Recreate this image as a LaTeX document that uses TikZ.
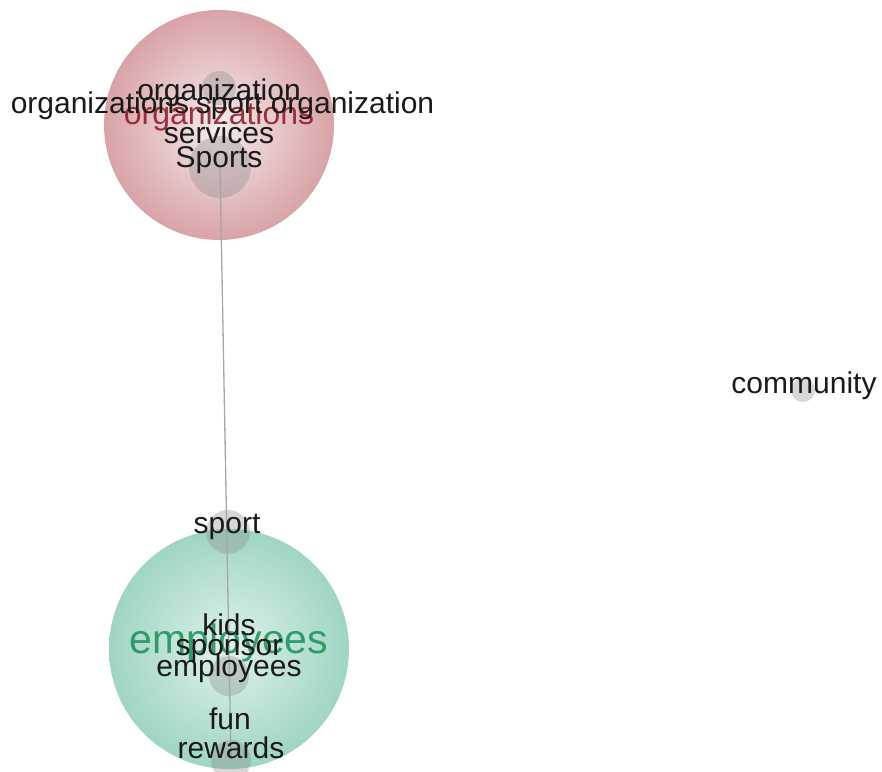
\documentclass[tikz,border=0pt]{standalone}
\usepackage{fontspec}
\setmainfont{Liberation Sans}
\definecolor{redout}{HTML}{D9A3A6}
\definecolor{redin}{HTML}{F6ECEC}
\definecolor{greenout}{HTML}{9FD5C3}
\definecolor{greenin}{HTML}{E0F2EC}
\definecolor{txt}{HTML}{1A1A1A}
\definecolor{redlab}{HTML}{8E1520}
\definecolor{greenlab}{HTML}{189058}
\tikzset{
  bubble/.style={circle, inner sep=0pt, draw=none, shading=radial},
  gnode/.style={circle, inner sep=0pt, draw=none, fill=black!45, fill opacity=0.35},
  lab/.style={inner sep=0pt, text=txt, font=\fontsize{30}{30}\selectfont, anchor=center},
  biglab/.style={inner sep=0pt, anchor=center, text opacity=0.85},
  link/.style={draw=black!35, line width=1.3pt}
}
\begin{document}
\begin{tikzpicture}[x=1pt,y=-1pt]
\useasboundingbox (0,0) rectangle (882,771);
% clusters
\node[bubble, minimum size=230pt, inner color=redin, outer color=redout] (redc) at (219,125) {};
\node[bubble, minimum size=240pt, inner color=greenin, outer color=greenout] (greenc) at (229,649) {};
% item circles
\node[gnode, minimum size=34pt] (norg) at (219,88) {};
\node[gnode, minimum size=62pt] (nsports) at (220,167) {};
\node[gnode, minimum size=24pt] (ncomm) at (803,390) {};
\node[gnode, minimum size=44pt] (nsport) at (228,532) {};
\node[gnode, minimum size=40pt] (nemp) at (229,676) {};
\node[gnode, minimum size=40pt] (nrew) at (231,760) {};
% link
\draw[link] (nsports.center) -- (nrew.center);
% labels
\node[biglab, text=redlab, font=\fontsize{32}{32}\selectfont] (lred) at (219,116) {organizations};
\node[lab] (l1) at (219,93) {organization};
\node[lab] (l2) at (100,106) {organizations};
\node[lab] (l3) at (315,106) {sport organization};
\node[lab] (l4) at (219,133) {services};
\node[lab] (l5) at (219,160) {Sports};
\node[lab] (l6) at (804,386) {community};
\node[lab] (l7) at (227,527) {sport};
\node[biglab, text=greenlab, font=\fontsize{41}{41}\selectfont] (lgreen) at (229,643) {employees};
\node[lab] (l8) at (229,625) {kids};
\node[lab] (l9) at (229,651) {sponsor};
\node[lab] (l10) at (229,669) {employees};
\node[lab] (l11) at (230,719) {fun};
\node[lab] (l12) at (231,748) {rewards};
\end{tikzpicture}
\end{document}
